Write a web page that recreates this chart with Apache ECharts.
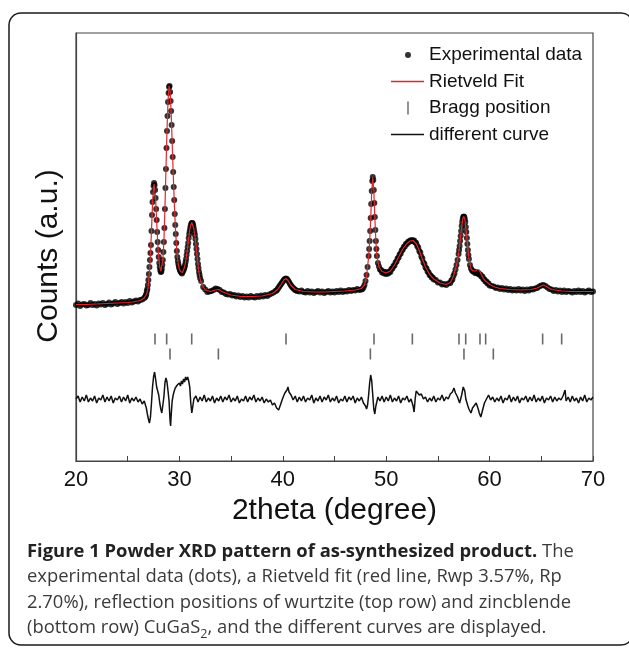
<!DOCTYPE html>
<html>
<head>
<meta charset="utf-8">
<script src="https://cdn.jsdelivr.net/npm/echarts@6.0.0/dist/echarts.min.js"></script>
<style>
  html, body { margin: 0; padding: 0; background: #fff; }
  #chart { width: 629px; height: 648px; }
</style>
</head>
<body>
<div id="chart"></div>
<script>
// counts are arbitrary units
const experimental = [
  [20.0,156],[20.2,157.5],[20.4,155],[20.6,156.5],[20.8,157],[21.0,155.5],[21.2,156],[21.4,158],[21.6,156],[21.8,157],
  [22.0,155.5],[22.2,157.5],[22.4,156.5],[22.6,158],[22.8,156],[23.0,157],[23.2,158.5],[23.4,156.5],[23.6,157.5],[23.8,159],
  [24.0,157],[24.2,158],[24.4,159],[24.6,157.5],[24.8,159],[25.0,158],[25.2,160],[25.4,158.5],[25.6,159.5],[25.8,160.5],
  [26.0,159.5],[26.2,161],[26.4,161.5],[26.6,163],
  [26.7,164],[26.75,165.5],[26.8,167],[26.85,170],[26.9,172],[26.95,176],[27.0,181],[27.05,187],[27.1,194],[27.15,201],
  [27.2,208],[27.25,216],[27.3,230],[27.35,246],[27.4,259],[27.45,269],[27.5,275],[27.55,278],[27.6,276],[27.65,271],
  [27.7,263],[27.75,252],[27.8,241],[27.85,229],[27.9,219],[27.95,211],[28.0,204],[28.05,198],[28.1,194],[28.15,191],
  [28.2,189],[28.25,189.5],[28.3,192],[28.35,196],[28.4,201],[28.45,209],[28.5,219],[28.55,233],[28.6,252],[28.65,273],
  [28.7,292],[28.75,313],[28.8,330],[28.85,345],[28.9,359],[28.95,368],[29.0,374],[29.05,375],[29.1,369],[29.15,360],
  [29.2,350],[29.25,336],[29.3,320],[29.35,304],[29.4,289],[29.45,274],[29.5,261],[29.55,247],[29.6,236],[29.65,227],
  [29.7,218],[29.75,210],[29.8,204],[29.85,200],[29.9,197],[29.95,194.5],[30.0,192.5],[30.05,191],[30.1,190],[30.15,189],
  [30.2,188.5],[30.25,187.5],[30.3,189],[30.35,190],[30.4,191],[30.45,192.5],[30.5,194],[30.55,196],[30.6,199],[30.65,202],
  [30.7,206],[30.75,210],[30.8,214],[30.85,218],[30.9,223],[30.95,227],[31.0,230],[31.05,233],[31.1,235.5],[31.15,237],
  [31.2,238],[31.25,238],[31.3,237],[31.35,235],[31.4,232],[31.45,229],[31.5,226],[31.55,222],[31.6,217],[31.65,212],
  [31.7,207],[31.75,202],[31.8,197],[31.85,193],[31.9,189],[31.95,186],[32.0,183],
  [32.1,180],[32.3,174],[32.5,171.5],[32.7,169],[32.9,169.5],[33.1,170],[33.3,171],[33.5,172.5],[33.7,172],[33.9,171],
  [34.1,169],[34.3,168.5],[34.5,167],[34.7,166.5],[34.9,167],[35.1,165.5],[35.3,166],[35.5,164.5],[35.7,165.5],[35.9,164],
  [36.1,165],[36.3,163.5],[36.5,164.5],[36.7,163.5],[36.9,165],[37.1,164],[37.3,163.5],[37.5,165],[37.7,164],[37.9,165.5],
  [38.1,164.5],[38.3,166],[38.5,165],[38.7,166.5],[38.9,167.5],[39.1,168.5],[39.3,170],
  [39.4,170.5],[39.5,172],[39.6,173.5],[39.7,175],[39.8,176.5],[39.9,178],[40.0,179.5],[40.1,181],[40.2,182],[40.3,182.5],
  [40.4,182],[40.5,180.5],[40.6,179],[40.7,177],[40.8,175.5],[40.9,174],[41.0,173],[41.1,172],[41.2,171],[41.3,170.5],[41.4,170],
  [41.6,169.5],[41.8,170.5],[42.0,169],[42.2,168.5],[42.4,170],[42.6,168.5],[42.8,169.5],[43.0,168],[43.2,169],[43.4,170],
  [43.6,168.5],[43.8,169.5],[44.0,168],[44.2,169],[44.4,170],[44.6,168.5],[44.8,169.5],[45.0,168.5],[45.2,170],[45.4,169],
  [45.6,170.5],[45.8,169],[46.0,170],[46.2,169.5],[46.4,171],[46.6,170],[46.8,171],[47.0,170.5],[47.2,172],[47.4,171],
  [47.6,171.5],[47.7,172],[47.8,173.5],[47.9,176],[48.0,180],[48.1,186],[48.2,194],[48.3,205],[48.35,212],[48.4,220],
  [48.45,230],[48.5,243],[48.55,257],[48.6,270],[48.65,280],[48.7,284],[48.75,281],[48.8,271],[48.85,258],[48.9,244],
  [48.95,231],[49.0,220],[49.05,212],[49.1,205],[49.2,198],[49.3,194.5],[49.4,191.5],[49.5,191],[49.6,188.5],[49.7,189.5],
  [49.8,187.5],[49.9,189],[50.0,187],[50.1,188.5],[50.2,187.5],[50.3,189.5],[50.4,189],[50.5,192],[50.6,192.5],[50.7,195],
  [50.8,195.5],[50.9,198.5],[51.0,199.5],[51.1,202.5],[51.2,203.5],[51.3,206.5],[51.4,207.5],[51.5,210.5],[51.6,211.5],[51.7,214],
  [51.8,214.5],[51.9,217],[52.0,217],[52.1,219],[52.2,219],[52.3,220.5],[52.4,220],[52.5,221],[52.6,220],[52.7,220.5],
  [52.8,218.5],[52.9,218],[53.0,215],[53.1,213.5],[53.2,210],[53.3,208.5],[53.4,204.5],[53.5,202.5],[53.6,198.5],[53.7,197],
  [53.8,193.5],[53.9,192.5],[54.0,189.5],[54.1,188.5],[54.2,186],[54.3,185.5],[54.4,183.5],[54.5,183.5],[54.6,181.5],[54.8,181],
  [55.0,178.5],[55.2,178.5],[55.4,176.5],[55.6,177],[55.8,176],[56.0,177.5],[56.2,178],[56.3,180.5],[56.4,181.5],[56.5,185],
  [56.6,187.5],[56.7,191.5],[56.8,196],[56.9,201],[57.0,207],[57.05,211],[57.1,215],[57.15,220],[57.2,225],[57.25,230],
  [57.3,235],[57.35,239],[57.4,242],[57.45,244],[57.5,244.5],[57.55,244],[57.6,242],[57.65,239],[57.7,234],[57.75,229],
  [57.8,223],[57.85,217],[57.9,211],[57.95,206],[58.0,202],[58.1,196],[58.2,192.5],[58.3,190.5],[58.4,189.5],[58.5,189.5],
  [58.6,188],[58.7,189],[58.8,187.5],[58.9,188],[59.0,186.5],[59.1,186.5],[59.2,184.5],[59.3,184.5],[59.4,182],[59.5,181.5],
  [59.6,179.5],[59.7,179.5],[59.8,177.5],[59.9,177.5],[60.0,175.5],
  [60.2,175],[60.4,174.5],[60.6,173],[60.8,173.5],[61.0,172],[61.2,173],[61.4,171.5],[61.6,172.5],[61.8,171],[62.0,172],
  [62.2,170.5],[62.4,171.5],[62.6,170.5],[62.8,172],[63.0,170.5],[63.2,171.5],[63.4,170],[63.6,171.5],[63.8,170.5],[64.0,172],
  [64.2,171.5],[64.4,172.5],[64.6,173],[64.8,174.5],[65.0,175.5],[65.2,176],[65.4,175],[65.6,173.5],[65.8,172],[66.0,171.5],
  [66.2,170],[66.4,171],[66.6,169.5],[66.8,170.5],[67.0,169],[67.2,170.5],[67.4,169],[67.6,170],[67.8,169.5],[68.0,168.5],
  [68.2,170],[68.4,169],[68.6,170.5],[68.8,169],[69.0,170],[69.2,168.5],[69.4,169.5],[69.6,170.5],[69.8,169],[70.0,169.5]
];

const rietveldFit = [
  [20,156.5],[21,156.5],[22,157],[23,157.5],[24,158],[25,158.5],[25.5,159],[26,160],[26.3,161],[26.6,163],
  [26.8,166.5],[26.9,169.5],[27.0,176],[27.1,189],[27.2,206],[27.3,230],[27.4,257],[27.5,274],[27.55,277],[27.6,275],
  [27.7,262],[27.8,240],[27.9,219],[28.0,204],[28.1,194],[28.2,190],[28.3,192],[28.4,201],[28.5,219],[28.6,252],
  [28.7,292],[28.8,331],[28.9,360],[29.0,375],[29.05,377],[29.1,370],[29.2,349],[29.3,319],[29.4,288],[29.5,260],
  [29.6,236],[29.7,218],[29.8,204],[29.9,196],[30.0,192],[30.1,189.5],[30.2,188],[30.3,188.5],[30.4,190.5],[30.5,194],
  [30.6,199],[30.7,206],[30.8,214],[30.9,223],[31.0,231],[31.1,236],[31.2,238.5],[31.3,237],[31.4,232],[31.5,225],
  [31.6,216],[31.7,206],[31.8,196],[31.9,188],[32.0,182],[32.2,176],[32.5,171],[33.0,169.5],[33.5,171],[33.8,171.5],
  [34.2,169],[35,166],[36,164.5],[37,164.5],[38,165],[39,167.5],[39.5,171.5],[39.8,176],[40.1,181],[40.3,182.5],
  [40.5,180.5],[40.8,175.5],[41.2,171.5],[42,169.5],[43,169],[44,169],[45,169.5],[46,170],[47,171],[47.6,172.5],
  [47.9,176],[48.1,185],[48.3,204],[48.4,219],[48.5,242],[48.6,269],[48.7,284],[48.8,271],[48.9,244],[49.0,220],
  [49.1,205],[49.3,194],[49.6,189.5],[50.0,188],[50.4,190],[50.8,196],[51.2,204],[51.6,212],[52.0,217.5],[52.3,220],
  [52.6,220.5],[52.9,217.5],[53.2,210.5],[53.5,202],[53.8,194],[54.2,186.5],[54.6,182],[55.2,178],[55.8,176.5],[56.2,178.5],
  [56.5,184.5],[56.8,196],[57.0,207],[57.2,225],[57.4,242],[57.5,244.5],[57.6,242],[57.8,223],[58.0,202],[58.2,192],
  [58.4,190],[58.6,190],[58.8,191.5],[58.9,192],[59.0,191],[59.2,186.5],[59.4,182.5],[59.6,180],[59.8,178.5],[60.0,176.5],
  [60.5,174],[61,172.5],[62,171.5],[63,171],[64,171.5],[64.6,173],[65.0,175],[65.2,176],[65.5,174.5],[66,171.5],
  [67,170],[68,169.5],[69,169.5],[70,169.5]
];

const differenceCurve = [
  [20.0,62],[20.2,65],[20.4,59],[20.6,64],[20.8,60],[21.0,66],[21.2,59],[21.4,63],[21.6,60],[21.8,65],
  [22.0,58],[22.2,63],[22.4,61],[22.6,66],[22.8,59],[23.0,64],[23.2,60],[23.4,65],[23.6,58],[23.8,63],
  [24.0,61],[24.2,65],[24.4,59],[24.6,64],[24.8,60],[25.0,66],[25.2,58],[25.4,63],[25.6,60],[25.8,64],
  [26.0,59],[26.2,62],[26.4,57],[26.6,60],[26.8,53],[26.9,47],[27.0,42],[27.1,38],[27.2,44],[27.3,58],
  [27.4,74],[27.5,84],[27.6,89],[27.7,82],[27.8,74],[27.9,70],[28.0,66],[28.1,58],[28.2,52],[28.3,48],
  [28.4,50],[28.5,64],[28.6,78],[28.7,83],[28.8,79],[28.9,70],[29.0,60],[29.1,40],[29.15,35],[29.2,45],
  [29.3,60],[29.4,66],[29.5,70],[29.6,73],[29.7,71],[29.8,76],[29.9,74],[30.0,78],[30.1,75],[30.2,80],
  [30.3,77],[30.4,82],[30.5,79],[30.6,84],[30.7,81],[30.8,84],[30.9,80],[31.0,74],[31.1,58],[31.2,48],
  [31.3,55],[31.4,62],[31.6,65],[31.8,59],[32.0,64],[32.2,60],[32.4,66],[32.6,59],[32.8,63],[33.0,60],
  [33.2,65],[33.4,58],[33.6,63],[33.8,60],[34.0,65],[34.2,59],[34.4,64],[34.6,61],[34.8,66],[35.0,59],
  [35.2,63],[35.4,60],[35.6,65],[35.8,58],[36.0,62],[36.2,60],[36.4,65],[36.6,59],[36.8,64],[37.0,61],
  [37.2,66],[37.4,59],[37.6,63],[37.8,60],[38.0,64],[38.2,58],[38.4,62],[38.6,59],[38.8,61],[39.0,56],
  [39.2,58],[39.4,53],[39.6,51],[39.8,57],[40.0,63],[40.2,68],[40.4,71],[40.5,74],[40.6,69],[40.8,66],
  [41.0,61],[41.2,65],[41.4,59],[41.6,64],[41.8,60],[42.0,65],[42.2,59],[42.4,63],[42.6,61],[42.8,66],
  [43.0,58],[43.2,63],[43.4,60],[43.6,65],[43.8,59],[44.0,64],[44.2,61],[44.4,66],[44.6,59],[44.8,63],
  [45.0,60],[45.2,65],[45.4,58],[45.6,62],[45.8,60],[46.0,65],[46.2,59],[46.4,64],[46.6,61],[46.8,65],
  [47.0,58],[47.2,63],[47.4,60],[47.6,64],[47.8,58],[48.0,55],[48.1,52],[48.2,56],[48.3,66],[48.4,78],
  [48.5,86],[48.6,80],[48.7,66],[48.8,52],[48.9,47],[49.0,55],[49.2,64],[49.4,60],[49.6,65],[49.8,59],
  [50.0,64],[50.2,60],[50.4,66],[50.6,59],[50.8,63],[51.0,60],[51.2,65],[51.4,58],[51.6,63],[51.8,61],
  [52.0,65],[52.2,59],[52.4,62],[52.6,55],[52.7,49],[52.8,62],[52.9,70],[53.0,71],[53.2,66],[53.4,67],
  [53.6,62],[53.8,64],[54.0,59],[54.2,63],[54.4,60],[54.6,65],[54.8,59],[55.0,63],[55.2,61],[55.4,66],
  [55.6,60],[55.8,64],[56.0,62],[56.2,67],[56.4,69],[56.55,73],[56.7,68],[56.9,64],[57.1,58],[57.3,66],
  [57.45,74],[57.6,70],[57.7,62],[57.9,55],[58.0,52],[58.2,48],[58.35,53],[58.5,55],[58.7,58],[58.9,52],
  [59.0,48],[59.15,44],[59.3,50],[59.5,58],[59.7,62],[59.9,66],[60.1,61],[60.3,64],[60.5,59],[60.7,63],
  [60.9,60],[61.1,65],[61.3,58],[61.5,63],[61.7,61],[61.9,66],[62.1,59],[62.3,64],[62.5,60],[62.7,65],
  [62.9,58],[63.1,63],[63.3,61],[63.5,65],[63.7,59],[63.9,64],[64.1,60],[64.3,66],[64.5,59],[64.7,63],
  [64.9,60],[65.1,65],[65.3,58],[65.5,63],[65.7,61],[65.9,65],[66.1,59],[66.3,64],[66.5,60],[66.7,63],
  [66.9,61],[67.1,65],[67.3,71],[67.4,60],[67.6,64],[67.8,59],[68.0,65],[68.2,60],[68.4,63],[68.6,58],
  [68.8,64],[69.0,60],[69.2,66],[69.4,59],[69.6,63],[69.8,61],[70.0,64]
];

// reflection positions, 2theta
const braggWurtzite = [27.64, 28.77, 31.19, 40.31, 48.82, 52.53, 57.04, 57.69, 59.07, 59.62, 65.13, 66.97];
const braggZincblende = [29.09, 33.77, 48.47, 57.52, 60.36];
const braggRowLevels = [122, 107];

// peak index labels: 2theta, counts, text
const peakLabels = [
  [29.0, 391, '0002/111'],
  [25.4, 292, '10-10'],
  [32.5, 254, '10-11'],
  [34.5, 188, '200'],
  [40.5, 201, '10-12'],
  [48.6, 303, '11-20/220'],
  [52.7, 234, '10-13'],
  [57.5, 261, '11-22/311']
];

const captionText =
  '{b|Figure 1 Powder XRD pattern of as-synthesized product.}{n| The}\n' +
  '{n|experimental data (dots), a Rietveld fit (red line, Rwp 3.57%, Rp}\n' +
  '{n|2.70%), reflection positions of wurtzite (top row) and zincblende}\n' +
  '{n|(bottom row) CuGaS}{sub|2}{n|, and the different curves are displayed.}';

const iconDot = 'path://M0,0M33,17M14,8.5A3,3,0,1,1,20,8.5A3,3,0,1,1,14,8.5Z';
const iconLine = 'path://M0,0M33,17M0,7.8L33,7.8L33,9.2L0,9.2Z';
const iconBar = 'path://M0,0M33,17M16.2,2L17.8,2L17.8,15L16.2,15Z';

const frameColor = '#444';
const chart = echarts.init(document.getElementById('chart'));

chart.setOption({
  animation: false,
  backgroundColor: '#fff',
  textStyle: { fontFamily: 'Liberation Sans', color: '#111' },
  title: {
    text: captionText,
    left: 27,
    top: 539,
    padding: 0,
    textStyle: {
      fontWeight: 'normal',
      rich: {
        b: { fontFamily: 'Open Sans', fontWeight: 'bold', fontSize: 18.4, color: '#222', lineHeight: 25.5 },
        n: { fontFamily: 'Open Sans', fontWeight: 'normal', fontSize: 18.4, color: '#3a3a3a', lineHeight: 25.5 },
        sub: { fontFamily: 'Open Sans', fontWeight: 'normal', fontSize: 12.5, color: '#3a3a3a', lineHeight: 14, verticalAlign: 'bottom' }
      }
    }
  },
  graphic: [{
    type: 'rect',
    shape: { x: 9, y: 13, width: 624, height: 632, r: 12 },
    style: { fill: 'none', stroke: '#1a1a1a', lineWidth: 1.5 },
    silent: true
  }],
  legend: {
    orient: 'vertical',
    left: 386,
    top: 40.5,
    itemWidth: 33,
    itemHeight: 17,
    itemGap: 7.5,
    selectedMode: false,
    itemStyle: { borderWidth: 0 },
    textStyle: { fontSize: 19, color: '#111', fontFamily: 'Liberation Sans' },
    data: [
      { name: 'Experimental data', icon: iconDot, itemStyle: { color: '#000' } },
      { name: 'Rietveld Fit', icon: iconLine, itemStyle: { color: '#e3262b' } },
      { name: 'Bragg position', icon: iconBar, itemStyle: { color: '#555' } },
      { name: 'different curve', icon: iconLine, itemStyle: { color: '#111' } }
    ]
  },
  grid: {
    left: 76, right: 36, top: 33, bottom: 187,
    show: true, borderColor: frameColor, borderWidth: 1.2,
    outerBoundsMode: 'none', containLabel: false
  },
  xAxis: {
    type: 'value',
    min: 20, max: 70, interval: 10,
    name: '2theta (degree)',
    nameLocation: 'middle',
    nameGap: 32,
    nameTextStyle: { fontSize: 30, color: '#111' },
    axisLine: { lineStyle: { color: frameColor, width: 1.2 } },
    axisTick: { inside: true, length: 5, lineStyle: { color: frameColor } },
    minorTick: { show: true, splitNumber: 2, length: 5, lineStyle: { color: frameColor } },
    axisLabel: { fontSize: 22, color: '#111', margin: 8 },
    splitLine: { show: false }
  },
  yAxis: {
    type: 'value',
    min: 0, max: 428,
    name: 'Counts (a.u.)',
    nameLocation: 'middle',
    nameGap: 12,
    nameTextStyle: { fontSize: 30, color: '#111', padding: [0, 18, 0, 0] },
    axisLine: { show: true, lineStyle: { color: frameColor, width: 1.2 } },
    axisTick: { show: false },
    axisLabel: { show: false },
    splitLine: { show: false }
  },
  series: [
    {
      name: 'Experimental data',
      type: 'scatter',
      data: experimental,
      symbol: 'circle',
      symbolSize: 6,
      itemStyle: { color: '#000' },
      z: 2
    },
    {
      name: 'Rietveld Fit',
      type: 'line',
      data: rietveldFit,
      symbol: 'none',
      showSymbol: false,
      lineStyle: { color: '#e3262b', width: 1.2 },
      itemStyle: { color: '#e3262b' },
      z: 3
    },
    {
      name: 'Bragg position',
      type: 'scatter',
      data: braggWurtzite.map(x => [x, braggRowLevels[0]]),
      symbol: 'rect',
      symbolSize: [1.6, 11],
      itemStyle: { color: '#444' }
    },
    {
      name: 'Bragg position',
      type: 'scatter',
      data: braggZincblende.map(x => [x, braggRowLevels[1]]),
      symbol: 'rect',
      symbolSize: [1.6, 11],
      itemStyle: { color: '#444' }
    },
    {
      name: 'different curve',
      type: 'line',
      data: differenceCurve,
      symbol: 'none',
      showSymbol: false,
      lineStyle: { color: '#111', width: 1.5 },
      itemStyle: { color: '#111' }
    },
    {
      name: 'peak labels',
      type: 'scatter',
      data: peakLabels,
      symbolSize: 1,
      itemStyle: { opacity: 0 },
      silent: true,
      label: {
        show: true,
        position: 'inside',
        formatter: p => p.data[2],
        fontSize: 20,
        color: '#111',
        fontFamily: 'Liberation Sans'
      }
    }
  ]
});
</script>
</body>
</html>
